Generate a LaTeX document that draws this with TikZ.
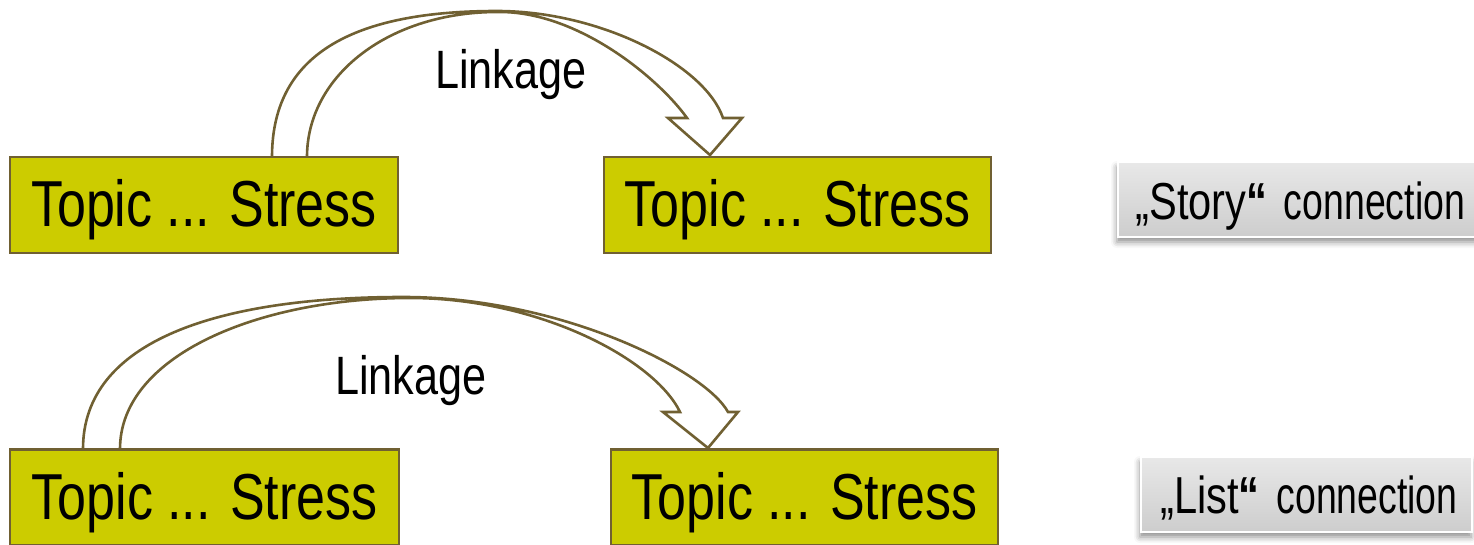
\documentclass[tikz,border=0pt]{standalone}
\usepackage{fontspec}
\setmainfont{Liberation Sans}[FakeStretch=0.8]
\usetikzlibrary{shadows.blur}

\definecolor{boxfill}{RGB}{204,204,0}
\definecolor{olivebrown}{RGB}{112,96,50}
\definecolor{tagtop}{RGB}{232,232,232}
\definecolor{tagbottom}{RGB}{205,205,205}

\newcommand{\conntext}{\scalebox{0.9}[1]{connection}}

\begin{document}
\begin{tikzpicture}[x=0.5pt,y=-0.5pt,
  topicbox/.style={draw=olivebrown, fill=boxfill, line width=1.4pt,
    text height=35pt, text depth=13pt, inner sep=0pt, outer sep=0pt,
    font=\fontsize{32.5}{39}\selectfont},
  blockarrow/.style={draw=olivebrown, line width=1.3pt, line join=miter},
  linklabel/.style={font=\fontsize{27}{32}\selectfont, anchor=base, inner sep=0pt},
  tagbox/.style={anchor=north west, top color=tagtop, bottom color=tagbottom,
    draw=white, line width=0.6pt, minimum height=37.5pt, inner sep=0pt,
    outer sep=0pt,
    blur shadow={shadow xshift=-0.5pt, shadow yshift=-2.5pt,
      shadow blur radius=3pt, shadow opacity=45}},
  tagtext/.style={anchor=base west, inner sep=0pt,
    font=\fontsize{26}{31}\selectfont}
]
\useasboundingbox (0,0) rectangle (1474,545);
\clip (0,0) rectangle (1474,545);

% the four topic/stress boxes
\node[topicbox, minimum width=194pt]   (s1) at (204,205)   {Topic ... Stress};
\node[topicbox, minimum width=193.5pt] (s2) at (797.5,205) {Topic ... Stress};
\node[topicbox, minimum width=194.5pt] (l1) at (204.5,497.5) {Topic ... Stress};
\node[topicbox, minimum width=193.5pt] (l2) at (804.5,497.5) {Topic ... Stress};

% curved block arrow, story row
\draw[blockarrow]
  (272,157) .. controls (272,50) and (360,11) .. (497,11)
            .. controls (600,11) and (705,65) .. (723,118)
  -- (742,118) -- (710,155) -- (668,118) -- (687,118)
            .. controls (660,80) and (580,12) .. (500,12)
            .. controls (390,11) and (307,75) .. (307,157);
\node[linklabel] (lk1) at (511,89) {Linkage};

% curved block arrow, list row
\draw[blockarrow]
  (83,449) .. controls (83,340) and (220,297) .. (403,297)
           .. controls (560,297) and (705,370) .. (728,412)
  -- (738,412) -- (708,448) -- (663,412) -- (680,412)
           .. controls (655,360) and (540,298) .. (410,298)
           .. controls (260,298) and (120,355) .. (120,449);
\node[linklabel] (lk2) at (411,394) {Linkage};

% connection type tags
\node[tagbox, minimum width=181pt] (story) at (1118,162) {};
\node[tagtext] (storytxt) at (1135,220)
  {„Story{\bfseries“}\hspace{0.1em} \conntext};
\node[tagbox, minimum width=165.5pt] (list) at (1141,457) {};
\node[tagtext] (listtxt) at (1160,513)
  {„List{\bfseries“}\hspace{0.1em} \conntext};
\end{tikzpicture}
\end{document}
